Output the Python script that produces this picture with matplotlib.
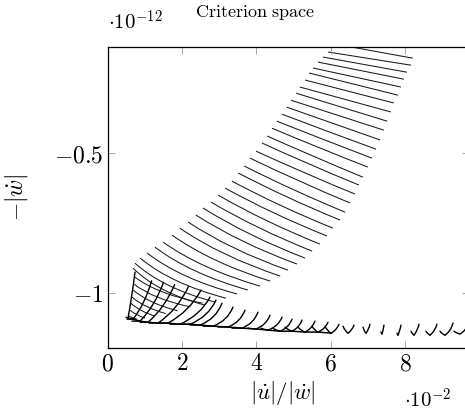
import matplotlib
matplotlib.use("Agg")
import matplotlib.pyplot as plt
from matplotlib.path import Path
from matplotlib.patches import PathPatch

plt.rcParams["mathtext.fontset"] = "cm"
plt.rcParams["font.family"] = "serif"

# Axis values are shown in units of 1e-2 (x) and 1e-12 (y).
# Descending family: left end, right end and bend of each curve.
desc_x0 = [6.14, 5.93, 5.79, 5.66, 5.52, 5.42, 5.31, 5.17, 5.07, 4.93, 4.82, 4.69,
           4.55, 4.42, 4.29, 4.15, 3.99, 3.83, 3.67, 3.51, 3.34, 3.16, 2.97, 2.78,
           2.56, 2.37, 2.16, 1.94, 1.73, 1.49, 1.27, 1.06, 0.87, 0.73, 0.68,
           0.73, 0.71, 0.68, 0.65, 0.62, 0.60, 0.57]
desc_y0 = [-0.110, -0.138, -0.156, -0.174, -0.195, -0.213, -0.238, -0.263, -0.285,
           -0.310, -0.335, -0.360, -0.385, -0.410, -0.438, -0.463, -0.492, -0.517,
           -0.545, -0.570, -0.599, -0.624, -0.649, -0.674, -0.695, -0.720, -0.745,
           -0.767, -0.792, -0.817, -0.835, -0.856, -0.874, -0.892, -0.910,
           -0.942, -0.967, -0.988, -1.013, -1.035, -1.060, -1.081]
desc_x1 = [8.21, 8.16, 8.05, 7.97, 7.89, 7.81, 7.70, 7.62, 7.52, 7.43, 7.33, 7.22,
           7.11, 7.00, 6.87, 6.76, 6.65, 6.52, 6.39, 6.25, 6.06, 5.90, 5.71, 5.50,
           5.31, 5.09, 4.85, 4.64, 4.37, 4.10, 3.77, 3.48, 3.18, 2.89, 2.62,
           2.55, 2.22, 1.88, 1.56, 1.27, 1.00, 0.79]
desc_y1 = [-0.160, -0.185, -0.210, -0.235, -0.263, -0.292, -0.320, -0.352, -0.385,
           -0.417, -0.452, -0.485, -0.517, -0.549, -0.585, -0.613, -0.645, -0.677,
           -0.710, -0.738, -0.767, -0.795, -0.824, -0.849, -0.874, -0.895, -0.917,
           -0.938, -0.956, -0.974, -0.988, -1.002, -1.017, -1.031, -1.042,
           -1.035, -1.048, -1.062, -1.072, -1.081, -1.088, -1.092]
desc_bend = [0.00, 0.00, 0.00, 0.00, 0.00, 0.00, 0.00, 0.00, 0.00, 0.00, 0.00, 0.01,
             0.01, 0.02, 0.02, 0.03, 0.03, 0.04, 0.05, 0.06, 0.07, 0.08, 0.09, 0.10,
             0.12, 0.14, 0.16, 0.18, 0.20, 0.22, 0.24, 0.26, 0.28, 0.30, 0.32,
             0.32, 0.32, 0.30, 0.28, 0.26, 0.24, 0.20]

# Rising family: left tip, lowest point and right tip of each hook.
hook_xl = [0.490, 0.517, 0.651, 0.867, 1.109, 1.378, 1.674, 1.943, 2.213, 2.563,
           2.966, 3.343, 3.773, 4.123, 4.446, 4.769, 5.119, 5.496, 5.846, 6.331,
           6.869, 7.353, 7.784, 8.161, 8.563, 8.942, 9.319]
hook_yl = [-1.085, -1.092, -1.099, -1.103, -1.106, -1.106, -1.110, -1.110, -1.113,
           -1.117, -1.120, -1.124, -1.124, -1.124, -1.124, -1.120, -1.120, -1.117,
           -1.117, -1.117, -1.120, -1.138, -1.142, -1.135, -1.135, -1.135, -1.135]
hook_xb = [0.544, 0.678, 0.867, 1.082, 1.351, 1.620, 1.943, 2.213, 2.482, 2.832,
           3.235, 3.612, 3.989, 4.312, 4.635, 4.958, 5.308, 5.658, 6.008, 6.466,
           6.950, 7.380, 7.811, 8.242, 8.673, 9.077, 9.480]
hook_yb = [-1.088, -1.092, -1.099, -1.103, -1.106, -1.106, -1.110, -1.110, -1.113,
           -1.117, -1.120, -1.124, -1.127, -1.131, -1.135, -1.135, -1.138, -1.138,
           -1.142, -1.142, -1.142, -1.145, -1.149, -1.149, -1.149, -1.149, -1.145]
hook_xr = [0.732, 1.180, 1.500, 1.800, 2.170, 2.510, 2.751, 2.912, 3.074, 3.369,
           3.693, 4.043, 4.366, 4.690, 4.958, 5.228, 5.576, 5.927, 6.224, 6.627,
           7.057, 7.434, 7.892, 8.377, 8.861, 9.292, 9.723]
hook_yr = [-0.924, -0.955, -0.960, -0.968, -0.976, -0.988, -1.013, -1.024, -1.035,
           -1.049, -1.060, -1.067, -1.078, -1.085, -1.092, -1.095, -1.099, -1.103,
           -1.110, -1.113, -1.110, -1.113, -1.113, -1.110, -1.110, -1.106, -1.103]
hook_bend = [0.10, 0.25, 0.25, 0.25, 0.28, 0.30, 0.35, 0.40, 0.45, 0.45, 0.45, 0.45,
             0.45, 0.45, 0.45, 0.40, 0.40, 0.40, 0.35, 0.35, 0.30, 0.20, 0.20, 0.30,
             0.35, 0.40, 0.40]

x_ticks = [0, 2, 4, 6, 8]
y_ticks = [-1, -0.5]

W, H = 465, 420
fig = plt.figure(figsize=(W / 100, H / 100), dpi=100)
ax_l, ax_r, ax_t, ax_b = 107.8, 469.0, 46.7, 348.3
ax = fig.add_axes([ax_l / W, 1 - ax_b / H, (ax_r - ax_l) / W, (ax_b - ax_t) / H])
ax.set_xlim(0, (ax_r - ax_l) / 37.15)
ax.set_ylim(-1.196, -0.119)


def bent(p0, p1, s):
    """Quadratic arc from p0 to p1 sagging towards the lower corner of the chord box."""
    (x0, y0), (x1, y1) = p0, p1
    hx = x0 if y0 > y1 else x1          # x of the upper end
    ly = min(y0, y1)                    # y of the lower end
    mx, my = (x0 + x1) / 2, (y0 + y1) / 2
    c = ((1 - s) * mx + s * hx, (1 - s) * my + s * ly)
    return Path([p0, c, p1], [Path.MOVETO, Path.CURVE3, Path.CURVE3])


line_kw = dict(fill=False, edgecolor="#1a1a1a", linewidth=0.75, capstyle="butt")
for x0, y0, x1, y1, s in zip(desc_x0, desc_y0, desc_x1, desc_y1, desc_bend):
    ax.add_patch(PathPatch(bent((x0, y0), (x1, y1), s), **line_kw))

hook_kw = dict(fill=False, edgecolor="black", linewidth=1.0, capstyle="round",
               joinstyle="round")
for xl, yl, xb, yb, xr, yr, s in zip(hook_xl, hook_yl, hook_xb, hook_yb,
                                     hook_xr, hook_yr, hook_bend):
    ax.add_patch(PathPatch(bent((xl, yl), (xb, yb), 0.3), **hook_kw))
    ax.add_patch(PathPatch(bent((xb, yb), (xr, yr), s), **hook_kw))

# lower envelope through the lowest points of the folds
env_n = 19
ax.plot(hook_xb[:env_n], hook_yb[:env_n], color="black", linewidth=1.1)

ax.set_xticks(x_ticks)
ax.set_xticklabels([f"${v:g}$" for v in x_ticks])
ax.set_yticks(y_ticks)
ax.set_yticklabels([f"${v:g}$" for v in y_ticks])
ax.tick_params(direction="in", length=5, width=0.6, color="#999999",
               top=True, right=True, labelsize=17, pad=3)
for sp in ax.spines.values():
    sp.set_linewidth(0.9)


def ftext(x, y, s, **kw):
    fig.text(x / W, 1 - y / H, s, **kw)


ftext(255, 12, r"$\mathrm{Criterion\ space}$", ha="center", va="center", fontsize=13)
ftext(135, 22, r"$\cdot 10^{-12}$", ha="center", va="center", fontsize=15)
ftext(428, 400, r"$\cdot 10^{-2}$", ha="center", va="center", fontsize=15)
ftext(283, 393, r"$|\dot{u}|/|\dot{w}|$", ha="center", va="center", fontsize=16.5)
ftext(17, 197, r"$-|\dot{w}|$", ha="center", va="center", fontsize=17, rotation=90)

fig.savefig("out.png", dpi=100)
